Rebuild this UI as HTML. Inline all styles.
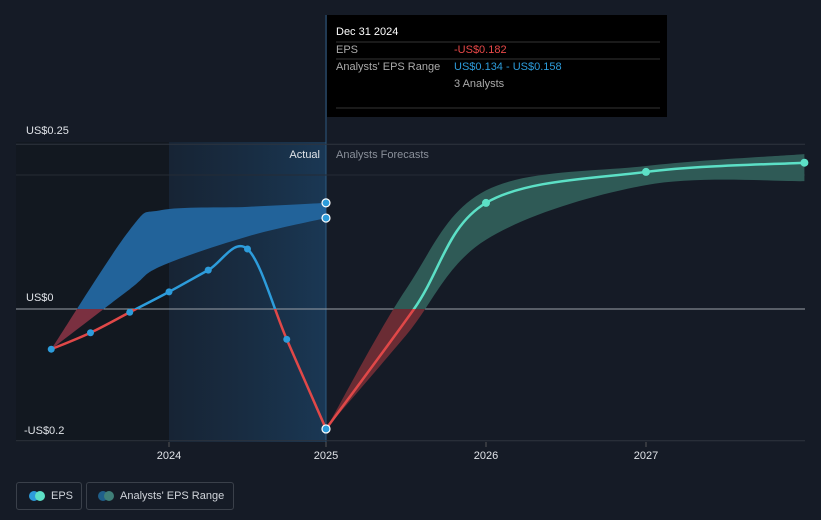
<!DOCTYPE html>
<html><head><meta charset="utf-8"><style>
html,body{margin:0;width:821px;height:520px;overflow:hidden}
body{background:#151b26;font-family:"Liberation Sans",sans-serif;position:relative}
svg{position:absolute;left:0;top:0}
.legend{position:absolute;top:482px;height:28px;border:1px solid #3a404a;border-radius:3px;color:#d0d4da;font-size:11px;line-height:26px;box-sizing:border-box;white-space:nowrap}
.dot{position:absolute;top:8px;width:10px;height:10px;border-radius:5px}
</style></head><body>
<svg width="821" height="520">
<defs>
<linearGradient id="hl" x1="0" x2="1"><stop offset="0" stop-color="#1a3550" stop-opacity="0.35"/><stop offset="1" stop-color="#1c4468" stop-opacity="0.7"/></linearGradient>
<clipPath id="above"><rect x="0" y="0" width="821" height="309"/></clipPath>
<clipPath id="below"><rect x="0" y="309" width="821" height="211"/></clipPath>
</defs>
<rect x="16" y="142" width="153" height="300" fill="#121820"/>
<rect x="169" y="142" width="157" height="300" fill="url(#hl)"/>
<line x1="326" y1="15" x2="326" y2="442" stroke="#2d5a80" stroke-width="1"/>
<g id="grid"></g>
<g id="bands"></g>
<g id="lines"></g>
<g id="pts"></g>
<text x="26" y="134" fill="#e0e3e8" font-size="11">US$0.25</text>
<text x="26" y="301" fill="#e0e3e8" font-size="11">US$0</text>
<text x="24" y="434" fill="#e0e3e8" font-size="11">-US$0.2</text>
<text x="320" y="158" fill="#e0e3e8" font-size="11" text-anchor="end">Actual</text>
<text x="336" y="158" fill="#8a909a" font-size="11">Analysts Forecasts</text>
<g id="xt"></g>
<g>
<rect x="327" y="15" width="340" height="102" fill="#000"/>
<text x="336" y="35" fill="#fff" font-size="11">Dec 31 2024</text>
<line x1="336" y1="42" x2="660" y2="42" stroke="#333"/>
<text x="336" y="53" fill="#aaa" font-size="11">EPS</text>
<text x="454" y="53" fill="#e84848" font-size="11">-US$0.182</text>
<line x1="336" y1="59" x2="660" y2="59" stroke="#333"/>
<text x="336" y="70" fill="#aaa" font-size="11">Analysts' EPS Range</text>
<text x="454" y="70" fill="#2d9cdb" font-size="11">US$0.134 - US$0.158</text>
<text x="454" y="87" fill="#aaa" font-size="11">3 Analysts</text>
<line x1="336" y1="108" x2="660" y2="108" stroke="#333"/>
</g>
</svg>
<div class="legend" style="left:16px;width:66px"><span class="dot" style="left:12px;background:#2d9cdb"></span><span class="dot" style="left:18px;background:#5ce0c6"></span><span style="position:absolute;left:34px">EPS</span></div>
<div class="legend" style="left:86px;width:148px"><span class="dot" style="left:11px;background:#1f5f8a"></span><span class="dot" style="left:17px;background:#3f7f78"></span><span style="position:absolute;left:33px">Analysts' EPS Range</span></div>
<script>
const actualDates=[2023.25,2023.5,2023.75,2024.0,2024.25,2024.5,2024.75,2025.0];
const actualEps=[-0.061,-0.036,-0.005,0.026,0.059,0.091,-0.046,-0.182];
const pastBandDates=[2023.25,2023.75,2023.95,2024.5,2025.0];
const pastBandHigh=[-0.061,0.12,0.15,0.155,0.161];
const pastBandLow=[-0.061,0.03,0.065,0.11,0.138];
const fcDates=[2025.0,2025.55,2026.0,2027.0,2027.99];
const fcEps=[-0.182,0.0,0.161,0.208,0.222];
const fcBandDates=[2025.0,2025.5,2026.0,2027.0,2027.99];
const fcBandHigh=[-0.182,0.03,0.18,0.217,0.235];
const fcBandLow=[-0.182,-0.04,0.105,0.188,0.194];
const yTicks=[0.25,0,-0.2];
const xTicks=[2024,2025,2026,2027];
const X=t=>t<=2025?169+(t-2024)*157:326+(t-2025)*160;
const Y=v=>309-v*659;
const NS='http://www.w3.org/2000/svg';
function mk(tag,attrs,parent){const e=document.createElementNS(NS,tag);for(const k in attrs)e.setAttribute(k,attrs[k]);document.getElementById(parent).appendChild(e);return e;}
function curve(pts,move=true){let d=move?`M${pts[0][0]},${pts[0][1]}`:`L${pts[0][0]},${pts[0][1]}`;
for(let i=0;i<pts.length-1;i++){const p0=pts[i-1]||pts[i],p1=pts[i],p2=pts[i+1],p3=pts[i+2]||p2;
d+=` C${p1[0]+(p2[0]-p0[0])/6},${p1[1]+(p2[1]-p0[1])/6} ${p2[0]-(p3[0]-p1[0])/6},${p2[1]-(p3[1]-p1[1])/6} ${p2[0]},${p2[1]}`;}return d;}
function pts(ds,vs){return ds.map((d,i)=>[X(d),Y(vs[i])]);}
yTicks.forEach(v=>{const l=mk('line',{x1:16,x2:805,y1:Y(v),y2:Y(v),stroke:v===0?'#9aa0a8':'#2e343e','stroke-width':1},'grid');

});
mk('line',{x1:16,x2:805,y1:175,y2:175,stroke:'#252b35'},'grid');
xTicks.forEach(t=>{const g=mk('text',{x:X(t),y:459,fill:'#e0e3e8','font-size':11,'text-anchor':'middle'},'xt');g.textContent=t;


mk('line',{x1:X(t),x2:X(t),y1:442,y2:447,stroke:'#555'},'xt');});
function band(ds,hi,lo,fillA,fillB,name){
const up=pts(ds,hi),dn=pts(ds,lo).reverse();const d=curve(up)+' '+curve(dn,false)+'Z';
const a=mk('path',{d,fill:fillA,'clip-path':'url(#above)'},'bands');


const b=mk('path',{d,fill:fillB,'clip-path':'url(#below)'},'bands');

}
band(pastBandDates,pastBandHigh,pastBandLow,'#22639a','#7a3040','past-eps-range');
band(fcBandDates,fcBandHigh,fcBandLow,'#2f5a56','#6a2c34','forecast-eps-range');
function line(ds,vs,colA,name){const d=curve(pts(ds,vs));
const a=mk('path',{d,fill:'none',stroke:colA,'stroke-width':2.5,'clip-path':'url(#above)'},'lines');


const b=mk('path',{d,fill:'none',stroke:'#e04848','stroke-width':2.5,'clip-path':'url(#below)'},'lines');

}
line(actualDates,actualEps,'#2d9cdb','actual-eps-line');
line(fcDates,fcEps,'#5ce0c6','forecast-eps-line');
actualDates.forEach((d,i)=>{const last=i===actualDates.length-1;
const c=mk('circle',{cx:X(d),cy:Y(actualEps[i]),r:last?4:3.5,fill:'#2d9cdb',stroke:last?'#fff':'none','stroke-width':1.2},'pts');

});
[pastBandHigh[pastBandHigh.length-1],pastBandLow[pastBandLow.length-1]].forEach(v=>{
const c=mk('circle',{cx:X(2025),cy:Y(v),r:4,fill:'#2d9cdb',stroke:'#fff','stroke-width':1.2},'pts');

});
fcDates.forEach((d,i)=>{if(i<2)return;
const c=mk('circle',{cx:X(d),cy:Y(fcEps[i]),r:4,fill:'#5ce0c6'},'pts');

});
</script>
</body></html>
